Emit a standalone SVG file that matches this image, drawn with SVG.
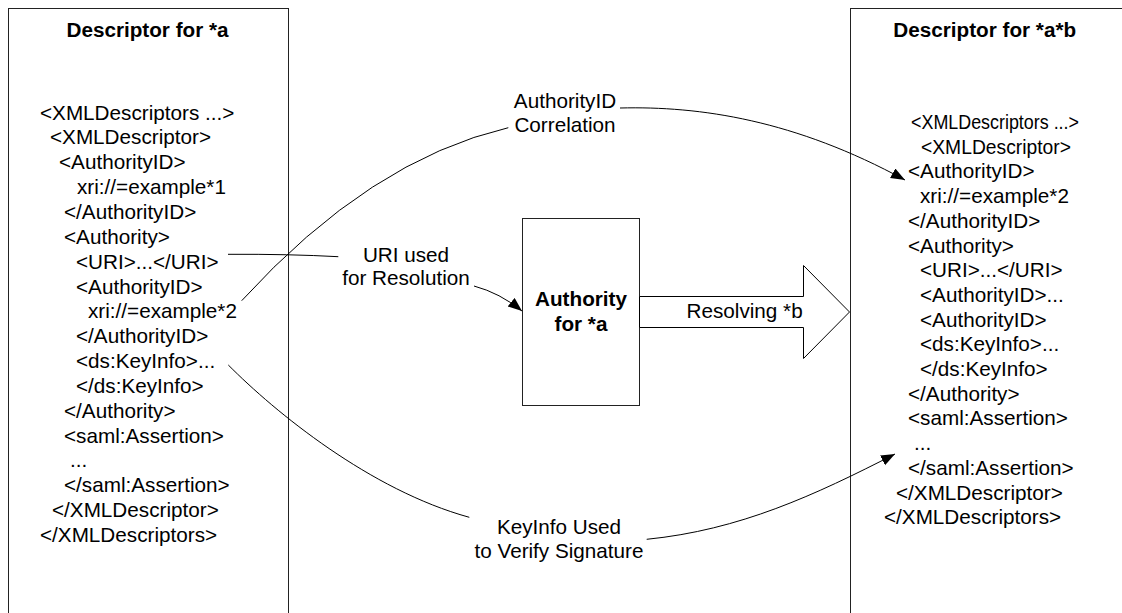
<svg xmlns="http://www.w3.org/2000/svg" width="1122" height="613" viewBox="0 0 1122 613">
<style>
  text { font-family: "Liberation Sans", Arial, sans-serif; font-size: 20.7px; fill: #000; }
  .b { font-weight: bold; }
  .m { text-anchor: middle; }
  .box { fill: #fff; stroke: #222; stroke-width: 1; }
  .conn { fill: none; stroke: #000; stroke-width: 1; }
</style>
<defs>
  <marker id="ah" markerUnits="userSpaceOnUse" markerWidth="16" markerHeight="13" refX="14" refY="5.5" orient="auto">
    <path d="M0,0 L14,5.5 L0,11 z" fill="#000"/>
  </marker>
</defs>
<rect width="1122" height="613" fill="#fff"/>

<g id="left-descriptor">
  <rect class="box" x="8.5" y="8.5" width="280" height="700"/>
  <text class="b m" x="147.5" y="37">Descriptor for *a</text>
  <text x="40" y="119.5">&lt;XMLDescriptors ...&gt;</text>
  <text x="50" y="144.4">&lt;XMLDescriptor&gt;</text>
  <text x="59" y="169.2">&lt;AuthorityID&gt;</text>
  <text x="77" y="194.1">xri://=example*1</text>
  <text x="64" y="218.9">&lt;/AuthorityID&gt;</text>
  <text x="64" y="243.8">&lt;Authority&gt;</text>
  <text x="76" y="268.6">&lt;URI&gt;...&lt;/URI&gt;</text>
  <text x="76" y="293.5">&lt;AuthorityID&gt;</text>
  <text x="88" y="318.3">xri://=example*2</text>
  <text x="76" y="343.2">&lt;/AuthorityID&gt;</text>
  <text x="76" y="368">&lt;ds:KeyInfo&gt;...</text>
  <text x="76" y="392.9">&lt;/ds:KeyInfo&gt;</text>
  <text x="64" y="417.7">&lt;/Authority&gt;</text>
  <text x="64" y="442.6">&lt;saml:Assertion&gt;</text>
  <text x="70" y="467.4">...</text>
  <text x="64" y="492.3">&lt;/saml:Assertion&gt;</text>
  <text x="52" y="517.1">&lt;/XMLDescriptor&gt;</text>
  <text x="40" y="542">&lt;/XMLDescriptors&gt;</text>
</g>

<g id="right-descriptor">
  <rect class="box" x="850.5" y="8.5" width="300" height="700"/>
  <text class="b m" x="984.7" y="37">Descriptor for *a*b</text>
  <text x="911" y="129" textLength="168" lengthAdjust="spacingAndGlyphs">&lt;XMLDescriptors ...&gt;</text>
  <text x="921" y="153.7" textLength="150" lengthAdjust="spacingAndGlyphs">&lt;XMLDescriptor&gt;</text>
  <text x="908" y="178.4">&lt;AuthorityID&gt;</text>
  <text x="920" y="203.1">xri://=example*2</text>
  <text x="908" y="227.8">&lt;/AuthorityID&gt;</text>
  <text x="908" y="252.5">&lt;Authority&gt;</text>
  <text x="920" y="277.2">&lt;URI&gt;...&lt;/URI&gt;</text>
  <text x="920" y="301.9">&lt;AuthorityID&gt;...</text>
  <text x="920" y="326.6">&lt;AuthorityID&gt;</text>
  <text x="920" y="351.3">&lt;ds:KeyInfo&gt;...</text>
  <text x="920" y="376">&lt;/ds:KeyInfo&gt;</text>
  <text x="908" y="400.7">&lt;/Authority&gt;</text>
  <text x="908" y="425.4">&lt;saml:Assertion&gt;</text>
  <text x="914" y="450.1">...</text>
  <text x="908" y="474.8">&lt;/saml:Assertion&gt;</text>
  <text x="896" y="499.5">&lt;/XMLDescriptor&gt;</text>
  <text x="884" y="524.2">&lt;/XMLDescriptors&gt;</text>
</g>

<g id="authority">
  <rect class="box" x="522.5" y="218.5" width="117" height="187"/>
  <text class="b m" x="581" y="306">Authority</text>
  <text class="b m" x="581" y="330.7">for *a</text>
</g>

<g id="connectors">
  <g id="resolving">
    <polygon points="639.5,296.5 803.5,296.5 803.5,265.5 849.5,312 803.5,358.5 803.5,327.5 639.5,327.5" fill="#fff" stroke="#000" stroke-width="1"/>
    <text x="686.5" y="318.3">Resolving *b</text>
  </g>
  <g id="authorityid-correlation">
    <path class="conn" d="M241.7,300.7 Q370,160 508.3,127.7"/>
    <path class="conn" d="M620,108 C700,106 795,120 905,180" marker-end="url(#ah)"/>
    <text class="m" x="565" y="108.3">AuthorityID</text>
    <text class="m" x="565" y="131.7">Correlation</text>
  </g>
  <g id="uri-resolution">
    <path class="conn" d="M228,254.3 Q290,254 338.3,256.7"/>
    <path class="conn" d="M474,286 Q500,293 522,311" marker-end="url(#ah)"/>
    <text class="m" x="406" y="261.7">URI used</text>
    <text class="m" x="406" y="285">for Resolution</text>
  </g>
  <g id="keyinfo-verify">
    <path class="conn" d="M228.3,365 C275,412 370,490 469.3,517.3"/>
    <path class="conn" d="M646.7,539.3 C740,530 815,495 895,454" marker-end="url(#ah)"/>
    <text class="m" x="559" y="534">KeyInfo Used</text>
    <text class="m" x="559" y="558.3">to Verify Signature</text>
  </g>
</g>
</svg>
